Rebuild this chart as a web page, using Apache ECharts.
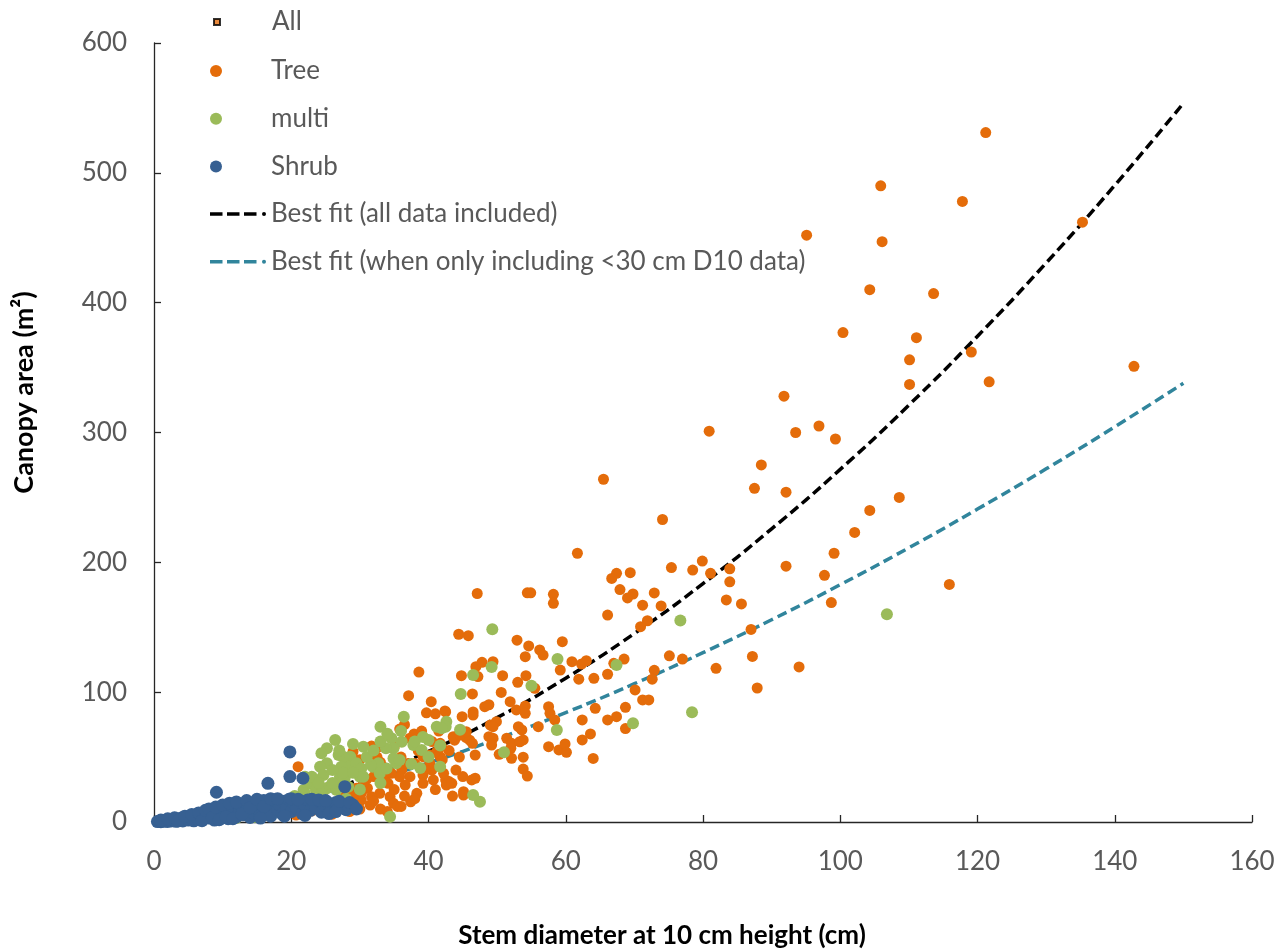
<!DOCTYPE html>
<html>
<head>
<meta charset="utf-8">
<title>Canopy area vs stem diameter</title>
<script src="https://cdn.jsdelivr.net/npm/echarts@6/dist/echarts.min.js"></script>
<style>
  html, body { margin: 0; padding: 0; background: #ffffff; }
  #chart { width: 1285px; height: 952px; }
</style>
</head>
<body>
<div id="chart"></div>
<script>
// Stem diameter at 10 cm height (cm) vs canopy area (m²), one [x, y] pair per plant

const treePoints = [
  [121.2,531],[105.9,490],[117.8,478],[95.1,452],[106.1,447],[135.3,462],[104.3,410],[113.6,407],
  [100.4,377],[111.1,373],[110.1,356],[110.1,337],[119.1,362],[121.7,339],[142.8,351],[91.8,328],
  [80.9,301],[93.5,300],[96.9,305],[99.3,295],[88.5,275],[87.5,257],[92.1,254],[108.6,250],
  [104.3,240],[102.1,223],[99.1,207],[115.9,183],[92.1,197],[97.7,190],[74.1,233],[98.7,169],
  [65.5,264],[61.7,207],[79.9,201],[75.4,196],[78.5,194],[81.1,191.5],[83.9,195],[83.9,185],
  [83.4,171],[85.6,168],[69.4,192],[67.4,191.5],[66.7,187.6],[67.9,179],[69.0,172.6],[69.8,175.6],
  [72.9,176.4],[71.2,167],[73.9,166.4],[71.9,155],[70.9,150.4],[87.0,148.3],[68.5,125.5],[75.1,128],
  [77.0,125.5],[87.2,127.5],[81.9,118.4],[94.0,119.4],[72.9,116.8],[72.6,110],[70.1,101.7],[71.2,94],
  [72.1,94],[68.7,88.3],[87.9,103.2],
  [47.1,176],[54.4,176.5],[54.9,176.5],[58.2,175.4],[58.2,168.4],[66.1,159.4],[44.4,144.6],[45.8,143.5],
  [52.9,140],[54.6,135.6],[54.1,127.3],[56.2,132.5],[56.7,128.6],[59.5,138.9],[59.2,117],[60.9,123.5],
  [62.3,121.7],[63.0,124.2],[61.9,110],[64.1,110.7],[66.1,113.8],[67.0,122.2],[66.1,78.6],[67.4,81.1],
  [68.7,72],[64.3,87.6],[62.4,78.6],[62.4,63.2],[63.6,67.8],[64.0,49],[46.9,119.6],[47.8,123],
  [49.4,123.5],[47.2,112],[44.8,112.7],[46.4,98.6],[50.8,112.7],[53.0,107.6],[54.2,112.7],[55.5,103],
  [50.6,99.8],[51.9,92.7],[52.8,86.3],[54.1,89.3],[54.1,83.7],[48.2,88.8],[48.8,90.3],[46.5,84.8],
  [46.5,82.4],[42.5,84.8],[44.9,81.1],[44.5,68],[45.5,65],[43.8,63],[46,63],[49.0,74.7],
  [49.9,77.3],[49.4,73.4],[48.8,65.7],[49.4,64.5],[49.2,59.3],[51.4,64.5],[52.1,60.6],[53.1,73.4],
  [53.6,70.9],[53.8,63.2],[53.3,61.8],[52.0,56.8],[52.1,49.1],[53.8,49.9],[53.8,40.8],[54.4,35.4],
  [50.3,52.1],[56.0,73.4],[57.5,88.8],[57.7,83.7],[58.4,78.6],[57.5,58],[59.0,55.5],[59.9,60.1],
  [60.1,53.7],[46.8,51.6],[41.7,60.6],[41.7,50.3],[42.5,32.4],[43.0,31.1],[42.6,28.5],[45.1,23.3],
  [45.1,20.8],[46.3,32.4],[46.8,33.7],[46.4,60.6],
  [38.6,115.5],[37.1,97.3],[40.4,92.7],[39.7,84.1],[41.0,83.3],[42.4,85.5],[35.8,71.6],[37.9,67.8],
  [37.3,64.5],[43.6,65.7],[44.6,67],[45.5,69.6],[39.2,50.3],[40.2,51.6],[41.2,54.1],[41.9,58],
  [40.2,45.2],[42.2,37.5],[40.7,32.4],[39.2,36.2],[39.2,29.8],[43.4,29.8],[36.1,40],[37.3,34.9],
  [36.6,28.5],[35.8,34.9],[38.3,22.1],[37.4,15.6],[34.6,37.5],[33.7,34.9],[34.1,29.8],[32.9,22.1],
  [34.4,19.5],[34.9,14.4],[31.1,26],[31.7,19.5],[30.2,16.9],[31.5,13.1],[29.0,54.1],[31.7,58.5],
  [32.7,57.8],[29.5,26],[30.2,22.1],[21.0,42.6],[27.8,22],[24.9,13.9],[23.0,8.5],[20.7,5.4],
  [26.5,10],[28.5,8],[33,10],[35.5,12],[36.5,20],[40.5,40],[38,45],[33,46],[31,33],
  [30.5,30],[32,35],[33.5,42],[35,25],[36,50],[37,45],[38.5,55],[39.5,40],
  [40.5,62],[42,48],[43,55],[44,40],[44.5,50],[45,35],[43.5,20],[41,25],
  [38,18],[36,12],[34,8],[32,16],[30,10],[29,20],[27,15],[26,6],
  [24,20],[22.5,15],[39,70],[41.5,70],[36.5,75],[35,58],[32.5,50],[30,48]
];

const multiPoints = [
  [106.8,160],[76.7,155.2],[49.3,148.4],[58.8,125.5],[67.4,121],[69.8,76],[78.4,84.5],[49.2,119.4],
  [46.5,113.2],[44.7,98.6],[55.0,105],[58.7,70.9],[51.0,53.7],[47.5,15.6],[46.5,20.8],[34.4,4.1],
  [42.6,77.3],[42.5,73.4],[41.2,73.4],[41.9,72.2],[36.4,81.1],[33.0,73.4],[40.0,63.2],[34.6,64.5],
  [36.1,61.8],[37.8,59.3],[34.9,56.8],[33.8,56.8],[39.0,55.5],[37.5,44.7],[41.7,42.6],[28.6,50.3],
  [28.8,46.3],[28.3,42.6],[26.4,63.2],[25.2,56.8],[24.4,52.9],[25.2,45.2],[27.6,50.3],[26.9,51.6],
  [27.3,42.6],[27.1,34.9],[29.5,45.2],[30.2,41.2],[30.0,34.9],[30.5,34.9],[31.9,42.6],[32.7,45.2],
  [32.9,37.5],[33.9,41.2],[35.3,45.2],[34.9,49.1],[22.0,34.9],[21.8,24.6],[22.7,29.8],[23.7,32.4],
  [23.0,34.9],[24.2,42.6],[24.7,36.2],[25.6,27.2],[25.2,26],[26.6,24.6],[27.1,29.8],[28.3,27.2],
  [41.7,59],[44.6,71],[39.2,65.5],[35.8,47.8],[38.8,41.6],[31.6,44],[27.8,34],[23.6,24.6],
  [21.3,17],[19.8,12.3],[17.6,7.7],[14.7,3.9],[12,3],[16,5.5],[18.5,10],[22,12],
  [25,16],[28,18],[30,25],[33,30],
  [23,18],[24.5,22],[26,30],[27.5,38],[29,38],[31,50],[32,55],[33,62],
  [30.5,58],[29,60],[27,55],[34,68],[36,70],[38,62],[40,50],[26,40],
  [24,30],[22,22],[20.5,20],[18,14]
];

const shrubPoints = [
  [19.8,54],[19.8,35],[21.7,33.7],[16.6,29.8],[9.1,22.9],[27.8,27.2],[29.0,13.1],
  [0.5,0.3],[0.8,0.6],[1,0.2],[1.2,0.9],[1.5,0.5],[1.8,1.2],[2,0.4],[2.2,1.6],
  [2.5,0.8],[2.8,2],[3,1.2],[3.2,0.5],[3.5,2.4],[3.8,1.5],[4,3],[4.2,0.8],
  [4.5,2.2],[4.8,3.8],[5,1.5],[5.2,4.5],[5.5,2.8],[5.8,0.9],[6,5.2],[6.2,3.5],
  [6.5,1.8],[6.8,6],[7,4.2],[7.2,2.5],[7.5,7.4],[7.8,5],[8,3],[8.2,8.5],
  [8.5,6.2],[8.8,1.5],[9,4.5],[9.2,9.8],[9.5,7.3],[9.8,3.2],[10,11],[10.2,5.5],
  [10.5,8.5],[10.8,2.5],[11,12.5],[11.3,6.5],[11.6,10],[12,4],[12.2,13.5],[12.5,8],
  [12.8,11.5],[13,5.5],[13.3,14.5],[13.6,9.5],[14,3.5],[14.2,12.8],[14.5,7],[14.8,15.5],
  [15,10.5],[15.4,5],[15.7,13.5],[16,16.5],[16.3,8.5],[16.6,11.5],[17,4.5],[17.3,15],
  [17.6,17],[18,9.5],[18.3,13],[18.7,6],[19,16],[19.3,11],[19.7,17.5],[20,8],
  [20.4,14],[20.8,10.5],[21.2,16.5],[21.6,6.5],[22,12.5],[22.4,17],[22.8,9],[23.2,14.5],
  [23.6,11],[24,16.5],[24.4,7.5],[24.8,13],[25.2,15.5],[25.6,10],[26,12.5],[26.5,15],
  [27,11],[27.5,13.5],[28,9.5],[28.4,12],
  [1,1.5],[2,2.5],[3,3.2],[3.5,0.8],[4.5,4.5],[5.5,5.8],[6.5,7],[7,1],
  [7.5,9],[8,10],[8.5,3.5],[9,11.5],[9.5,1.8],[10,13],[10.5,4],[11,14.5],
  [11.5,2.5],[12,15.5],[12.8,6],[13.5,16.5],[14,11],[15,17.5],[15.5,3],[16,12],
  [17,18],[18,18],[19,4.5],[20,18],[21,17.5],[22,5],[23,17.5],[24,17],
  [25,16.5],[25.5,6.5],[26.5,8],[27,16],[28.5,15],[29.5,10]
];

// Fitted curves, sampled every 10 cm of stem diameter
const fitX = [0, 10, 20, 30, 40, 50, 60, 70, 80, 90, 100, 110, 120, 130, 140, 150];
const fitAllY = [0, 4.8, 16.1, 32.8, 54.4, 80.4, 110.8, 145.2, 183.6, 225.8, 271.6, 321.1, 374.2, 430.6, 490.4, 553.6];
const fitSmallY = [0, 5.6, 16.0, 29.5, 45.6, 64.0, 84.3, 106.5, 130.4, 155.8, 182.8, 211.2, 241.0, 272.0, 304.4, 337.9];

const xTicks = { min: 0, max: 160, step: 20 };
const yTicks = { min: 0, max: 600, step: 100 };

const COLORS = {
  tree: '#E46C0A',
  multi: '#9BBB59',
  shrub: '#376092',
  fitAll: '#000000',
  fitSmall: '#31859C',
  text: '#595959',
  axis: '#262626'
};

const FONT = 'Lato, "Open Sans", "Liberation Sans", sans-serif';

// legend glyph for the fitted lines: three dashes and a dot
const DASH_ICON = 'path://M0,0h12.5v3.4h-12.5z M17,0h12.5v3.4h-12.5z M34,0h12.5v3.4h-12.5z '
  + 'M52,1.7a2,2 0 1,0 4,0a2,2 0 1,0 -4,0z';

const allPoints = treePoints.concat(multiPoints, shrubPoints);
const pairs = (xs, ys) => xs.map((x, i) => [x, ys[i]]);

const legendText = { color: COLORS.text, fontFamily: FONT, fontSize: 26, lineHeight: 28 };

const chart = echarts.init(document.getElementById('chart'), null, { renderer: 'canvas' });

chart.setOption({
  backgroundColor: '#ffffff',
  animation: false,
  grid: {
    left: 154, right: 33, top: 43, bottom: 130,
    containLabel: false, outerBoundsMode: 'none'
  },
  legend: [
    {
      data: ['All'],
      orient: 'vertical', left: 213, top: 8, padding: 0,
      itemWidth: 6, itemHeight: 6, itemGap: 20,
      textStyle: Object.assign({}, legendText, { padding: [0, 0, 0, 47] }),
      selectedMode: false
    },
    {
      data: ['Tree', 'multi', 'Shrub'],
      orient: 'vertical', left: 210, top: 57, padding: 0,
      itemWidth: 12, itemHeight: 12, itemGap: 19.7,
      textStyle: Object.assign({}, legendText, { padding: [0, 0, 0, 44] }),
      selectedMode: false
    },
    {
      data: [
        { name: 'Best fit (all data included)', icon: DASH_ICON },
        { name: 'Best fit (when only including <30 cm D10 data)', icon: DASH_ICON }
      ],
      orient: 'vertical', left: 210, top: 200, padding: 0,
      itemWidth: 56, itemHeight: 12, itemGap: 19.7,
      textStyle: legendText,
      selectedMode: false
    }
  ],
  xAxis: {
    type: 'value',
    min: xTicks.min, max: xTicks.max, interval: xTicks.step,
    name: 'Stem diameter at 10 cm height (cm)',
    nameLocation: 'middle', nameGap: 101,
    nameTextStyle: {
      color: '#000000', fontFamily: FONT, fontWeight: 'bold', fontSize: 26,
      padding: [0, 82, 0, 0]
    },
    axisLine: { lineStyle: { color: COLORS.axis, width: 1.3 } },
    axisTick: { inside: true, length: 7, lineStyle: { color: COLORS.axis, width: 1.3 } },
    axisLabel: { color: COLORS.text, fontFamily: FONT, fontSize: 26, margin: 27 },
    splitLine: { show: false }
  },
  yAxis: {
    type: 'value',
    min: yTicks.min, max: yTicks.max, interval: yTicks.step,
    name: 'Canopy area (m²)',
    nameLocation: 'middle', nameGap: 116, nameRotate: 90,
    nameTextStyle: {
      color: '#000000', fontFamily: FONT, fontWeight: 'bold', fontSize: 27,
      padding: [0, 0, 0, 80]
    },
    axisLine: { show: true, lineStyle: { color: COLORS.axis, width: 1.3 } },
    axisTick: { show: true, inside: true, length: 7, lineStyle: { color: COLORS.axis, width: 1.3 } },
    axisLabel: { color: COLORS.text, fontFamily: FONT, fontSize: 26, margin: 27 },
    splitLine: { show: false }
  },
  series: [
    {
      name: 'All', type: 'scatter', data: allPoints,
      symbol: 'rect', symbolSize: 4,
      itemStyle: { color: COLORS.tree, borderColor: '#000000', borderWidth: 1 },
      z: 1
    },
    {
      name: 'Best fit (all data included)', type: 'line', data: pairs(fitX, fitAllY),
      smooth: true, symbol: 'none', showSymbol: false,
      lineStyle: { color: COLORS.fitAll, width: 3.5, type: [10, 5] },
      itemStyle: { color: COLORS.fitAll },
      z: 2
    },
    {
      name: 'Best fit (when only including <30 cm D10 data)', type: 'line', data: pairs(fitX, fitSmallY),
      smooth: true, symbol: 'none', showSymbol: false,
      lineStyle: { color: COLORS.fitSmall, width: 3.5, type: [10, 5] },
      itemStyle: { color: COLORS.fitSmall },
      z: 2
    },
    {
      name: 'Tree', type: 'scatter', data: treePoints,
      symbol: 'circle', symbolSize: 11,
      itemStyle: { color: COLORS.tree, opacity: 1 },
      z: 3
    },
    {
      name: 'multi', type: 'scatter', data: multiPoints,
      symbol: 'circle', symbolSize: 12,
      itemStyle: { color: COLORS.multi, opacity: 1 },
      z: 4
    },
    {
      name: 'Shrub', type: 'scatter', data: shrubPoints,
      symbol: 'circle', symbolSize: 13,
      itemStyle: { color: COLORS.shrub, opacity: 1 },
      z: 5
    }
  ]
});
</script>
</body>
</html>
